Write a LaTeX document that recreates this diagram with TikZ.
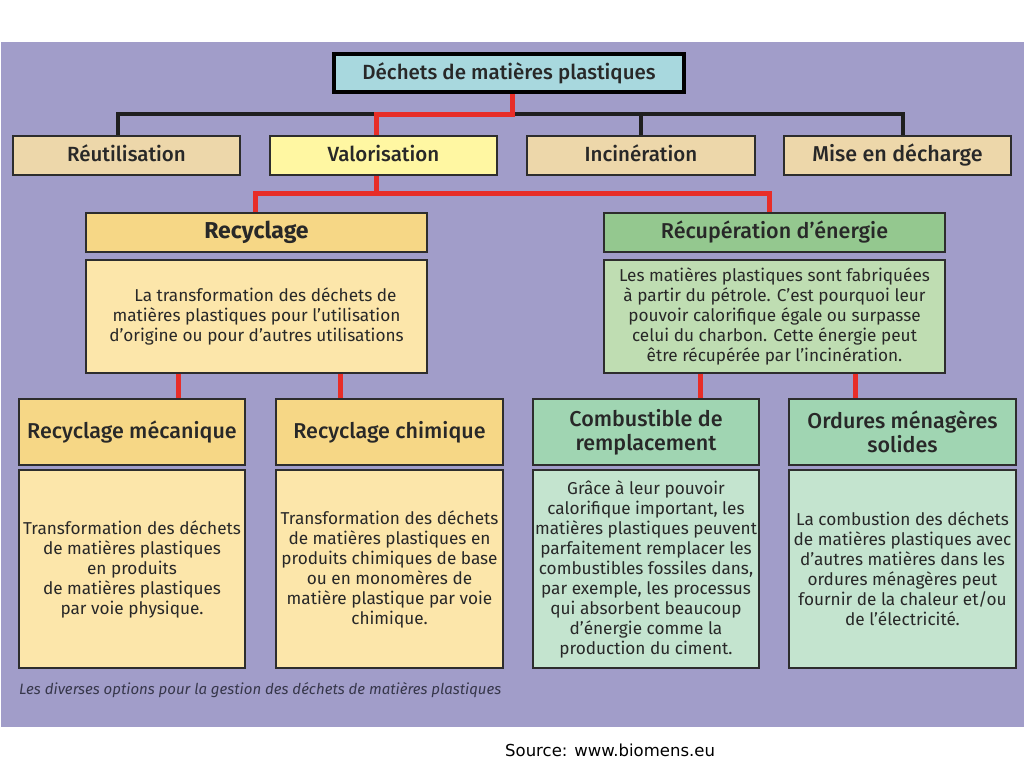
\documentclass[tikz,border=0pt]{standalone}
\usepackage{fontspec}
\setmainfont{Fira Sans}
\newfontfamily\medfont{Fira Sans Medium}
\newfontfamily\srcfont{DejaVu Sans}
\definecolor{bg}{RGB}{161,157,201}
\definecolor{topc}{RGB}{168,216,222}
\definecolor{tanc}{RGB}{237,215,170}
\definecolor{valc}{RGB}{255,247,162}
\definecolor{goldc}{RGB}{246,215,134}
\definecolor{paley}{RGB}{252,230,170}
\definecolor{grn}{RGB}{148,200,143}
\definecolor{grnd}{RGB}{191,221,178}
\definecolor{mint}{RGB}{160,213,178}
\definecolor{mintd}{RGB}{196,228,207}
\definecolor{lred}{RGB}{232,45,40}
\definecolor{txt}{RGB}{40,40,40}
\definecolor{boxline}{RGB}{45,45,45}
\begin{document}
\begin{tikzpicture}[x=1pt,y=-1pt,
  box/.style={draw=boxline, line width=1.3pt, text=txt, inner sep=0pt, align=center},
  hdr/.style={box, font=\medfont\fontsize{20.5}{24}\selectfont},
  thick hdr/.style={hdr, line width=2pt},
  big hdr/.style={thick hdr, font=\medfont\fontsize{21.5}{24}\selectfont},
  desc/.style={box, font=\fontsize{17.2}{20}\selectfont},
  redl/.style={draw=lred, line width=5pt},
  blkl/.style={draw=black!88, line width=4pt}]
\useasboundingbox (0,0) rectangle (1024,768);
\fill[white] (0,0) rectangle (1024,768);
\fill[bg] (1,42) rectangle (1024,727);
% level 0
\node[box, draw=black, line width=4.5pt, fill=topc, minimum width=350pt, minimum height=38pt,
  font=\medfont\fontsize{20.5}{23}\selectfont] (top) at (509,73) {Déchets de matières plastiques};
% level 1
\node[hdr, fill=tanc, minimum width=227pt, minimum height=39pt] (reut) at (126.5,155.5) {Réutilisation\vphantom{g}};
\node[thick hdr, fill=valc, minimum width=227pt, minimum height=39pt] (val) at (383.5,155.5) {Valorisation\vphantom{g}};
\node[hdr, fill=tanc, minimum width=228pt, minimum height=39pt] (inc) at (641,155.5) {Incinération\vphantom{g}};
\node[hdr, fill=tanc, minimum width=227pt, minimum height=39pt, font=\medfont\fontsize{21.5}{24}\selectfont] (mise) at (897.5,155.5) {Mise en décharge};
% level 2
\node[thick hdr, fill=goldc, minimum width=341pt, minimum height=39pt, font=\bfseries\fontsize{23}{26}\selectfont] (recy) at (256.5,232.5) {Recyclage};
\node[desc, fill=paley, minimum width=341pt, minimum height=113pt] (recyd) at (256.5,316.5)
  {\hspace*{18pt}La transformation des déchets de\\matières plastiques pour l’utilisation\\d’origine ou pour d’autres utilisations};
\node[thick hdr, fill=grn, minimum width=341pt, minimum height=39pt, font=\medfont\fontsize{21.5}{24}\selectfont] (recu) at (774.5,232.5) {Récupération d’énergie};
\node[desc, fill=grnd, minimum width=341pt, minimum height=113pt] (recud) at (774.5,316.5)
  {Les matières plastiques sont fabriquées\\à partir du pétrole. C’est pourquoi leur\\pouvoir calorifique égale ou surpasse\\celui du charbon. Cette énergie peut\\être récupérée par l’incinération.};
% level 3
\node[big hdr, fill=goldc, minimum width=226pt, minimum height=66pt] (meca) at (132,432) {Recyclage mécanique};
\node[big hdr, fill=goldc, minimum width=227pt, minimum height=66pt] (chim) at (389.5,432) {Recyclage chimique};
\node[big hdr, fill=mint, minimum width=226pt, minimum height=66pt] (comb) at (646,432) {Combustible de\\remplacement};
\node[big hdr, fill=mint, minimum width=227pt, minimum height=66pt] (ord) at (902.5,432) {Ordures ménagères\\solides};
% level 4
\node[desc, fill=paley, minimum width=226pt, minimum height=198pt] (mecad) at (132,569)
  {Transformation des déchets\\de matières plastiques\\en produits\\de matières plastiques\\par voie physique.};
\node[desc, fill=paley, minimum width=227pt, minimum height=198pt] (chimd) at (389.5,569)
  {Transformation des déchets\\de matières plastiques en\\produits chimiques de base\\ou en monomères de\\matière plastique par voie\\chimique.};
\node[desc, fill=mintd, minimum width=226pt, minimum height=198pt] (combd) at (646,569)
  {Grâce à leur pouvoir\\calorifique important, les\\matières plastiques peuvent\\parfaitement remplacer les\\combustibles fossiles dans,\\par exemple, les processus\\qui absorbent beaucoup\\d’énergie comme la\\production du ciment.};
\node[desc, fill=mintd, minimum width=227pt, minimum height=198pt] (ordd) at (902.5,569)
  {La combustion des déchets\\de matières plastiques avec\\d’autres matières dans les\\ordures ménagères peut\\fournir de la chaleur et/ou\\de l’électricité.};
% captions
\node[anchor=west, inner sep=0pt, text={rgb,255:red,55;green,55;blue,75}, font=\itshape\fontsize{15}{18}\selectfont] (cap) at (19,690)
  {Les diverses options pour la gestion des déchets de matières plastiques};
\node[anchor=west, inner sep=0pt, font=\srcfont\fontsize{16.5}{18}\selectfont] (src) at (505,750) {Source: www.biomens.eu};
% connectors
\coordinate (busA) at (0,114);
\coordinate (busB) at (0,193);
\coordinate (r1) at ([xshift=-8.5]reut.north);
\coordinate (m1) at ([xshift=5.5]mise.north);
\coordinate (t1) at ([xshift=3]top.south);
\coordinate (v1) at ([xshift=-7.5]val.north);
\coordinate (v2) at ([xshift=-7.5]val.south);
\coordinate (c1) at ([xshift=-1.5]recy.north);
\coordinate (c2) at ([xshift=-5.5]recu.north);
\draw[blkl] (r1) -- (r1 |- busA) -| (m1);
\draw[blkl] (inc.north) -- (inc.north |- busA);
\draw[redl] (t1) -- (t1 |- busA) -| (v1);
\draw[redl] (v2) -- (v2 |- busB);
\draw[redl] (c1) -- (c1 |- busB) -| (c2);
\coordinate (d1) at ([xshift=-78.5]recyd.south);
\coordinate (d2) at ([xshift=83.5]recyd.south);
\coordinate (d3) at ([xshift=-74.5]recud.south);
\coordinate (d4) at ([xshift=80.5]recud.south);
\draw[redl] (d1) -- (d1 |- meca.north);
\draw[redl] (d2) -- (d2 |- chim.north);
\draw[redl] (d3) -- (d3 |- comb.north);
\draw[redl] (d4) -- (d4 |- ord.north);
\end{tikzpicture}
\end{document}
